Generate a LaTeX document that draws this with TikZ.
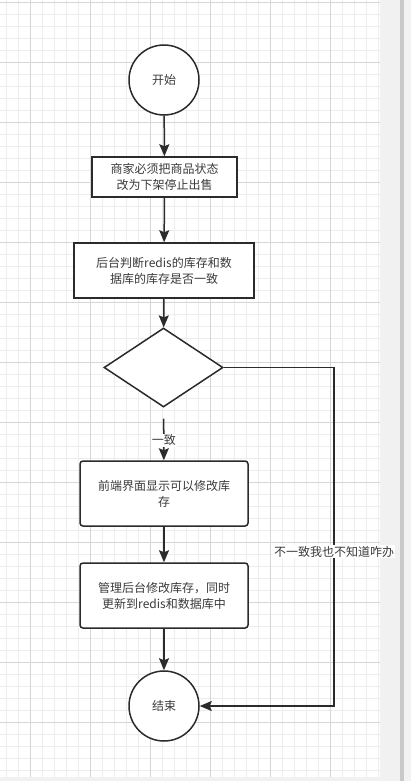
\documentclass[tikz,border=0pt]{standalone}
\usepackage{fontspec}
\setmainfont{Noto Sans CJK SC}
\usetikzlibrary{shapes.geometric,arrows.meta}
\definecolor{ink}{HTML}{2B2B2B}
\definecolor{txt}{HTML}{3A3A3A}
\definecolor{gminor}{HTML}{EDEDED}
\definecolor{gmajor}{HTML}{D6D6D6}
\definecolor{panel}{HTML}{F1F1F1}
\definecolor{sbar}{HTML}{C9C9C9}
\begin{document}
\begin{tikzpicture}[x=1pt,y=-1pt,
  every node/.style={font=\fontsize{12pt}{16pt}\selectfont, text=txt},
  shp/.style={draw=ink, line width=1.5pt, fill=white, inner sep=0pt, align=center},
  term/.style={shp, circle, minimum size=70pt},
  proc/.style={shp, rectangle},
  rproc/.style={shp, rectangle, rounded corners=3pt, minimum width=168pt, minimum height=65pt},
  dec/.style={shp, diamond, aspect=1.5, minimum width=119pt, minimum height=79pt},
  conn/.style={draw=ink, line width=1.5pt, -{Stealth[length=12pt,width=10pt,inset=2pt]}},
  lbl/.style={fill=white, inner sep=1pt}]
\useasboundingbox (0,0) rectangle (411,781);
% background
\fill[white] (0,0) rectangle (411,781);
\foreach \x in {6,18,...,378} \draw[gminor, line width=0.6pt] (\x,0) -- (\x,777);
\foreach \y in {2,14,...,776} \draw[gminor, line width=0.6pt] (0,\y) -- (380,\y);
\foreach \x in {30,90,...,370} \draw[gmajor, line width=0.6pt] (\x,0) -- (\x,777);
\foreach \y in {2,62,...,776} \draw[gmajor, line width=0.6pt] (0,\y) -- (380,\y);
\fill[panel] (380,0) rectangle (411,781);
\fill[panel] (0,777) rectangle (411,781);
\fill[sbar] (400,0) rectangle (404,781);
\fill[white!95!black] (404,0) rectangle (411,781);
% nodes
\node[term] (start) at (164,80) {开始};
\node[proc, minimum width=145pt, minimum height=40pt] (b1) at (164.5,177) {商家必须把商品状态\\改为下架停止出售};
\node[proc, minimum width=180pt, minimum height=55pt] (b2) at (164,270.5) {后台判断redis的库存和数\\据库的库存是否一致};
\node[dec] (dia) at (163.5,367.5) {};
\node[rproc] (b3) at (164,493.5) {前端界面显示可以修改库\\存};
\node[rproc] (b4) at (164,595.5) {管理后台修改库存，同时\\更新到redis和数据库中};
\node[term] (end) at (164,706) {结束};
\coordinate (corner) at (334,367.5);
% connectors
\draw[conn] (start) -- (b1);
\draw[conn] (b1) -- (b2);
\draw[conn] (b2) -- (dia);
\draw[conn, shorten <=11pt] (dia) -- node[lbl, pos=0.62] {一致} (b3);
\draw[conn] (b3) -- (b4);
\draw[conn] (b4) -- (end);
\draw[conn] (dia.east) -- (corner) |- node[lbl, pos=0.272] {不一致我也不知道咋办} (end.east);
\end{tikzpicture}
\end{document}
